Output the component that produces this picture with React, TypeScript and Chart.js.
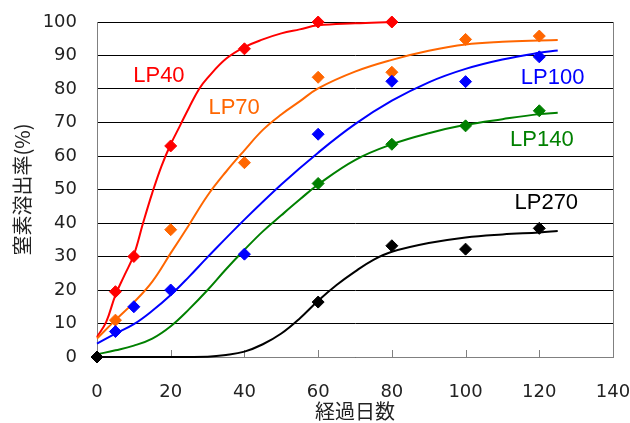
import React, { useEffect, useRef } from 'react';
import { Chart, registerables } from 'chart.js';

Chart.register(...registerables);

// ---- axis ticks ----
const xTickValues = [0, 20, 40, 60, 80, 100, 120, 140];
const yTickValues = [0, 10, 20, 30, 40, 50, 60, 70, 80, 90, 100];

// ---- measured points (diamonds) ----
const lp40X = [5, 10, 20, 40, 60, 80];
const lp40Y = [19.5, 30, 63, 92, 100, 100];
const lp70X = [5, 20, 40, 60, 80, 100, 120];
const lp70Y = [11, 38, 58, 83.5, 85, 94.8, 95.8];
const lp100X = [5, 10, 20, 40, 60, 80, 100, 120];
const lp100Y = [7.6, 15, 20, 30.7, 66.5, 82.3, 82.2, 89.6];
const lp140X = [0, 60, 80, 100, 120];
const lp140Y = [0, 51.8, 63.5, 69, 73.5];
const lp270X = [0, 60, 80, 100, 120];
const lp270Y = [0, 16.4, 33.2, 32.2, 38.4];

// ---- fitted curves ----
const lp40CurveX = [0, 2.5, 5, 7.5, 10, 12.5, 15, 17.5, 20, 22.5, 25, 27.7, 30, 35, 40, 45, 50, 55, 60, 70, 80];
const lp40CurveY = [6, 10.5, 18.5, 24.5, 30.5, 40, 49, 57, 63.5, 69, 74.5, 80, 83.3, 89, 92.5, 94.8, 96.6, 97.8, 99, 99.6, 100];
const lp70CurveX = [0, 5, 10, 15, 20, 25, 30, 35, 40, 45, 50, 55, 60, 70, 80, 90, 100, 110, 120, 125];
const lp70CurveY = [5.5, 11, 16.3, 22.5, 31, 39.5, 48.2, 55.3, 61.7, 67.8, 72.4, 76.3, 80.2, 85.2, 88.7, 91.4, 93.3, 94.1, 94.5, 94.6];
const lp100CurveX = [0, 5, 10, 15, 20, 25, 30, 40, 50, 60, 70, 80, 90, 100, 110, 120, 125];
const lp100CurveY = [4, 7, 9.8, 13.8, 18.5, 24, 29.8, 41, 51.5, 61, 69.5, 76.5, 82, 86, 88.8, 90.8, 91.5];
const lp140CurveX = [0, 5, 10, 15, 20, 25, 30, 35, 40, 45, 50, 55, 60, 70, 80, 90, 100, 110, 120, 125];
const lp140CurveY = [0.8, 2, 3.4, 5.5, 9.2, 14.3, 20, 26.2, 32, 37.5, 42.3, 47, 51.5, 58.8, 63.5, 66.8, 69.3, 71, 72.5, 72.9];
const lp270CurveX = [0, 20, 30, 35, 40, 45, 50, 55, 60, 65, 70, 75, 80, 90, 100, 110, 120, 125];
const lp270CurveY = [0, 0, 0.1, 0.6, 1.6, 3.8, 7, 11.5, 16.8, 21.5, 25.5, 29, 31.4, 34, 35.7, 36.6, 37.2, 37.6];

// ---- series labels ----
const seriesNames = ['LP40', 'LP70', 'LP100', 'LP140', 'LP270'];
const seriesColors = ['#FF0000', '#FF6600', '#0000FF', '#008000', '#000000'];
const labelAnchorX = [16.8, 37.2, 123.6, 120.7, 121.9];
const labelAnchorY = [83.9, 74.3, 83.3, 64.8, 46];

const zip = (xs: number[], ys: number[]) => xs.map((x, i) => ({ x, y: ys[i] }));

const decorPlugin = {
  id: 'decor',
  beforeDatasetsDraw(chart: any) {
    const { ctx, chartArea: a, scales } = chart;
    const x = scales.x;
    ctx.save();
    ctx.strokeStyle = '#808080';
    ctx.lineWidth = 1;
    ctx.beginPath();
    const r = Math.round(a.right) + 0.5;
    ctx.moveTo(r, a.top);
    ctx.lineTo(r, a.bottom);
    for (const v of xTickValues) {
      if (v === 0 || v === 140) continue;
      const px = Math.round(x.getPixelForValue(v)) + 0.5;
      ctx.moveTo(px, a.bottom);
      ctx.lineTo(px, a.bottom - 7);
    }
    ctx.stroke();
    ctx.restore();
  },
  afterDatasetsDraw(chart: any) {
    const { ctx, scales } = chart;
    ctx.save();
    ctx.font = '22px "Liberation Sans", Arial, sans-serif';
    ctx.textAlign = 'center';
    ctx.textBaseline = 'middle';
    seriesNames.forEach((name, i) => {
      ctx.fillStyle = seriesColors[i];
      ctx.fillText(name, scales.x.getPixelForValue(labelAnchorX[i]), scales.y.getPixelForValue(labelAnchorY[i]));
    });
    ctx.restore();
  },
};

export default function App() {
  const ref = useRef<HTMLCanvasElement | null>(null);
  useEffect(() => {
    if (!ref.current) return;
    const pointSets = [
      zip(lp40X, lp40Y),
      zip(lp70X, lp70Y),
      zip(lp100X, lp100Y),
      zip(lp140X, lp140Y),
      zip(lp270X, lp270Y),
    ];
    const curveSets = [
      zip(lp40CurveX, lp40CurveY),
      zip(lp70CurveX, lp70CurveY),
      zip(lp100CurveX, lp100CurveY),
      zip(lp140CurveX, lp140CurveY),
      zip(lp270CurveX, lp270CurveY),
    ];
    const markerDatasets = [4, 3, 2, 1, 0].map((i) => ({
      type: 'scatter' as const,
      label: seriesNames[i] + ' data',
      data: pointSets[i],
      showLine: false,
      pointStyle: 'rectRot' as const,
      pointRadius: 6,
      pointBorderWidth: 1,
      pointBackgroundColor: seriesColors[i],
      pointBorderColor: seriesColors[i],
      clip: false as any,
    }));
    const curveDatasets = [4, 3, 2, 1, 0].map((i) => ({
      type: 'line' as const,
      label: seriesNames[i],
      data: curveSets[i],
      borderColor: seriesColors[i],
      borderWidth: 2,
      pointRadius: 0,
      fill: false,
      tension: 0.4,
      clip: false as any,
    }));
    const chart = new Chart(ref.current, {
      type: 'scatter',
      data: { datasets: [...markerDatasets, ...curveDatasets] as any },
      options: {
        animation: false,
        responsive: false,
        devicePixelRatio: 1,
        layout: { padding: { top: 22, right: 17, left: 0, bottom: 0 } },
        plugins: { legend: { display: false }, tooltip: { enabled: false } },
        scales: {
          x: {
            type: 'linear',
            min: 0,
            max: 140,
            afterBuildTicks: (s: any) => { s.ticks = xTickValues.map((v) => ({ value: v })); },
            afterFit: (s: any) => {
              s.height = 66;
              s.paddingLeft = 0; s.paddingRight = 0; s.paddingTop = 0; s.paddingBottom = 0;
            },
            grid: { display: false, drawTicks: false },
            border: { display: true, color: '#808080', width: 1 },
            ticks: {
              autoSkip: false,
              maxRotation: 0,
              padding: 25,
              color: '#222',
              font: { family: '"DejaVu Sans", sans-serif', size: 18 },
            },
            title: {
              display: true,
              text: '経過日数',
              color: '#222',
              padding: { top: 0, bottom: 0 },
              font: { family: '"Noto Sans CJK JP", sans-serif', size: 20 },
            },
          },
          y: {
            type: 'linear',
            min: 0,
            max: 100,
            afterBuildTicks: (s: any) => { s.ticks = yTickValues.map((v) => ({ value: v })); },
            afterFit: (s: any) => {
              s.width = 97;
              s.paddingLeft = 0; s.paddingRight = 0; s.paddingTop = 0; s.paddingBottom = 0;
            },
            grid: { color: '#000', lineWidth: 1, drawTicks: false },
            border: { display: true, color: '#808080', width: 1 },
            ticks: {
              autoSkip: false,
              padding: 20,
              color: '#222',
              font: { family: '"DejaVu Sans", sans-serif', size: 18 },
            },
            title: {
              display: true,
              text: '窒素溶出率(%)',
              color: '#222',
              padding: { top: 10, bottom: 0 },
              font: { family: '"Noto Sans CJK JP", sans-serif', size: 20 },
            },
          },
        },
      },
      plugins: [decorPlugin],
    });
    return () => chart.destroy();
  }, []);
  return (
    <div style={{ position: 'fixed', left: 0, top: 0, width: 630, height: 423, background: '#fff' }}>
      <canvas ref={ref} width={630} height={423} style={{ width: 630, height: 423, display: 'block' }} />
    </div>
  );
}
